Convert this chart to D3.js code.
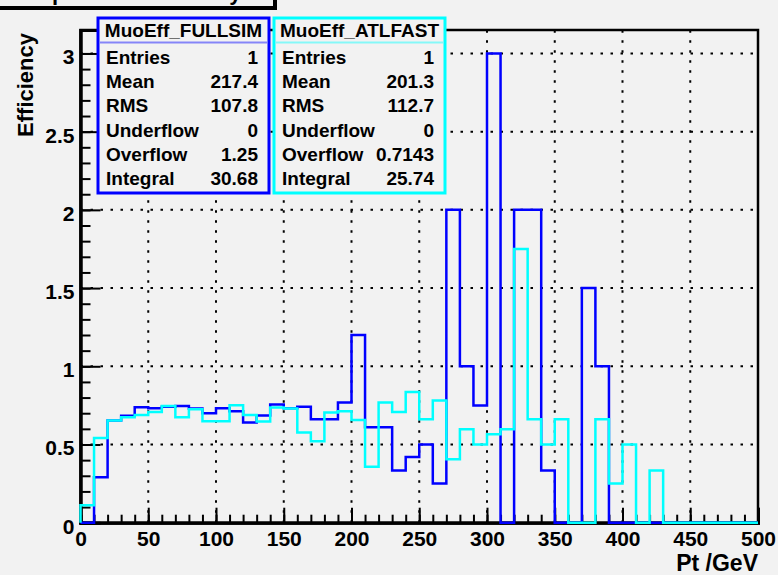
<!DOCTYPE html>
<html>
<head>
<meta charset="utf-8">
<script src="https://cdn.jsdelivr.net/npm/d3@7"></script>
<style>
  body { margin: 0; background: #f2f2f2; }
  text { font-family: "Liberation Sans", Arial, sans-serif; font-weight: bold; }
</style>
</head>
<body>
<div id="chart"></div>
<script>
// bins of 10 GeV, 0..500
var binEdges = d3.range(0, 510, 10);
var fullsim = [0, 0.29, 0.653, 0.683, 0.738, 0.732, 0.742, 0.746, 0.73, 0.70,
               0.732, 0.713, 0.64, 0.685, 0.755, 0.732, 0.742, 0.661, 0.661, 0.768,
               1.2, 0.61, 0.61, 0.333, 0.42, 0.5, 0.25, 2.0, 1.0, 0.75,
               3.0, 0, 2.0, 2.0, 0.333, 0, 0, 1.5, 1.0, 0,
               0, 0, 0, 0, 0, 0, 0, 0, 0, 0];
var atlfast = [0.111, 0.542, 0.653, 0.674, 0.689, 0.708, 0.746, 0.674, 0.725, 0.649,
               0.649, 0.751, 0.689, 0.647, 0.736, 0.73, 0.576, 0.521, 0.704, 0.713,
               0.657, 0.358, 0.768, 0.708, 0.836, 0.661, 0.781, 0.405, 0.597, 0.5,
               0.565, 0.597, 1.75, 0.661, 0.5, 0.661, 0, 0, 0.661, 0.25,
               0.5, 0, 0.333, 0, 0, 0, 0, 0, 0, 0];
var statLabels = ["Entries", "Mean", "RMS", "Underflow", "Overflow", "Integral"];
var fullsimStats = ["1", "217.4", "107.8", "0", "1.25", "30.68"];
var atlfastStats = ["1", "201.3", "112.7", "0", "0.7143", "25.74"];
var xTicks = d3.range(0, 550, 50);
var yTicks = [0, 0.5, 1, 1.5, 2, 2.5, 3];

var width = 778, height = 575;
var padL = 80.5, padR = 758, padT = 30, padB = 522.7;

var svg = d3.select("#chart").append("svg")
    .attr("width", width)
    .attr("height", height)
    .style("display", "block");

svg.append("rect").attr("width", width).attr("height", height).attr("fill", "#f2f2f2");

var x = d3.scaleLinear().domain([0, 500]).range([padL, padR]);
var y = d3.scaleLinear().domain([0, 3.15]).range([padB, padT]);

// grid
var grid = svg.append("g")
    .attr("stroke", "#000")
    .attr("stroke-width", 2)
    .attr("stroke-dasharray", "2.5 7.5");
grid.selectAll(".gx").data(xTicks.slice(1, -1)).enter().append("line")
    .attr("x1", function(d) { return x(d); }).attr("x2", function(d) { return x(d); })
    .attr("y1", padB).attr("y2", padT);
grid.selectAll(".gy").data(yTicks.slice(1)).enter().append("line")
    .attr("x1", padL).attr("x2", padR)
    .attr("y1", function(d) { return y(d); }).attr("y2", function(d) { return y(d); });

// frame
svg.append("rect")
    .attr("x", padL).attr("y", padT)
    .attr("width", padR - padL).attr("height", padB - padT)
    .attr("fill", "none").attr("stroke", "#000").attr("stroke-width", 2.5);

// axes
var yMinor = svg.append("g").attr("transform", "translate(" + padL + ",0)")
    .call(d3.axisLeft(y).tickValues(d3.range(0, 31).map(function(i) { return i / 10; }))
        .tickSize(-10).tickFormat(""));
var yMajor = svg.append("g").attr("transform", "translate(" + padL + ",0)")
    .call(d3.axisLeft(y).tickValues(yTicks).tickSize(-20).tickPadding(6)
        .tickFormat(function(d) { return d; }));
var xMinor = svg.append("g").attr("transform", "translate(0," + padB + ")")
    .call(d3.axisBottom(x).tickValues(d3.range(0, 510, 10)).tickSize(-8).tickFormat(""));
var xMajor = svg.append("g").attr("transform", "translate(0," + padB + ")")
    .call(d3.axisBottom(x).tickValues(xTicks).tickSize(-15).tickPadding(8)
        .tickFormat(function(d) { return d; }));

[yMinor, yMajor, xMinor, xMajor].forEach(function(a) {
  a.select(".domain").attr("stroke", "#000").attr("stroke-width", 3);
  a.selectAll(".tick line").attr("stroke", "#000").attr("stroke-width", 2);
  a.selectAll("text").attr("font-size", 21).attr("fill", "#000")
    .attr("font-family", "Liberation Sans, Arial, sans-serif").attr("font-weight", "bold");
});
yMajor.selectAll("text").attr("dy", "0.5em");

// histograms
function histPath(vals) {
  var p = d3.path();
  p.moveTo(x(0), y(0));
  vals.forEach(function(v, i) {
    p.lineTo(x(binEdges[i]), y(v));
    p.lineTo(x(binEdges[i + 1]), y(v));
  });
  p.lineTo(x(500), y(0));
  return p.toString();
}
svg.append("path").attr("d", histPath(fullsim))
    .attr("fill", "none").attr("stroke", "#0000ff").attr("stroke-width", 2.5);
svg.append("path").attr("d", histPath(atlfast))
    .attr("fill", "none").attr("stroke", "#00ffff").attr("stroke-width", 2.5);

// axis titles
svg.append("text")
    .attr("transform", "translate(33," + (padT + 3) + ") rotate(-90)")
    .attr("text-anchor", "end")
    .attr("font-size", 22)
    .text("Efficiency");
svg.append("text")
    .attr("x", padR).attr("y", 571)
    .attr("text-anchor", "end")
    .attr("font-size", 23)
    .text("Pt /GeV");

// stats boxes
function statBox(x0, x1, color, title, vals) {
  var g = svg.append("g");
  g.append("rect").attr("x", x0).attr("y", 18).attr("width", x1 - x0).attr("height", 175)
    .attr("fill", "#f2f2f2").attr("stroke", color).attr("stroke-width", 3);
  g.append("line").attr("x1", x0 + 2).attr("x2", x1 - 2).attr("y1", 42.5).attr("y2", 42.5)
    .attr("stroke", color).attr("stroke-opacity", 0.45).attr("stroke-width", 2);
  g.append("text").attr("x", (x0 + x1) / 2).attr("y", 37)
    .attr("text-anchor", "middle").attr("font-size", 19).text(title);
  g.selectAll(".lab").data(statLabels).enter().append("text")
    .attr("x", x0 + 8).attr("y", function(d, i) { return 64 + i * 24.2; })
    .attr("font-size", 19).text(function(d) { return d; });
  g.selectAll(".val").data(vals).enter().append("text")
    .attr("x", x1 - 11).attr("y", function(d, i) { return 64 + i * 24.2; })
    .attr("text-anchor", "end")
    .attr("font-size", 19).text(function(d) { return d; });
}
statBox(98, 269, "#0000ff", "MuoEff_FULLSIM", fullsimStats);
statBox(274, 445, "#00ffff", "MuoEff_ATLFAST", atlfastStats);

// title box (mostly outside the canvas)
svg.append("rect").attr("x", -7).attr("y", -47).attr("width", 284).attr("height", 57).attr("fill", "#000");
svg.append("rect").attr("x", -10).attr("y", -50).attr("width", 284).attr("height", 57)
    .attr("fill", "#f2f2f2").attr("stroke", "#000").attr("stroke-width", 2);
svg.append("text").attr("x", 3).attr("y", -0.5).attr("font-size", 22).text("Comparison Efficiency");
</script>
</body>
</html>
